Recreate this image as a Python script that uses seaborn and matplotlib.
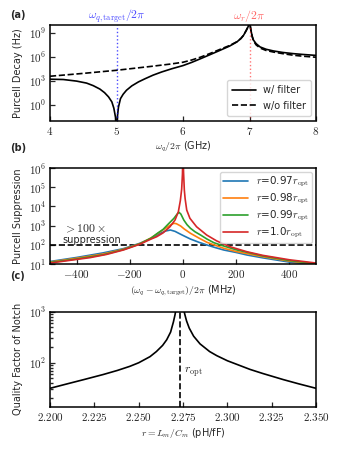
import matplotlib
matplotlib.use('Agg')

import matplotlib.pyplot as plt
import matplotlib.ticker as mticker
import matplotlib.transforms as mtransforms
import numpy as np
import pandas as pd
import seaborn as sns

# ---- panel (a): Purcell decay vs qubit frequency (values read as log10 Hz)
freq_filter = [4.00, 4.20, 4.40, 4.55, 4.65, 4.75, 4.82, 4.88, 4.93, 4.96, 4.985, 5.00,
               5.015, 5.03, 5.06, 5.10, 5.15, 5.23, 5.33, 5.43, 5.55, 5.68, 5.83, 6.00,
               6.13, 6.26, 6.40, 6.56, 6.70, 6.81, 6.87, 6.91, 6.95, 6.98, 7.00, 7.02,
               7.04, 7.06, 7.10, 7.16, 7.25, 7.36, 7.50, 7.66, 7.80, 8.00]
decay_filter_log10 = [3.19, 3.15, 2.95, 2.70, 2.38, 1.95, 1.50, 0.97, 0.34, -0.45, -1.6, -4.0,
                      -1.4, -0.3, 0.75, 1.30, 1.80, 2.35, 2.85, 3.25, 3.70, 4.10, 4.50, 4.90,
                      5.30, 5.75, 6.25, 6.83, 7.35, 7.87, 8.30, 8.70, 9.30, 9.80, 10.5, 9.40,
                      8.60, 8.10, 7.65, 7.24, 6.95, 6.74, 6.55, 6.40, 6.30, 6.18]

freq_nofilter = [4.00, 4.50, 5.00, 5.50, 5.80, 6.00, 6.13, 6.26, 6.40, 6.56, 6.70, 6.81,
                 6.87, 6.91, 6.95, 6.98, 7.00, 7.02, 7.04, 7.06, 7.10, 7.16, 7.25, 7.36,
                 7.50, 7.66, 7.80, 8.00]
decay_nofilter_log10 = [3.56, 3.92, 4.31, 4.78, 5.08, 5.32, 5.60, 5.95, 6.40, 6.95, 7.42, 7.90,
                        8.30, 8.70, 9.30, 9.80, 10.5, 9.40, 8.55, 8.00, 7.50, 7.10, 6.80, 6.60,
                        6.40, 6.20, 6.08, 5.95]

# ---- panel (b): Purcell suppression vs detuning (MHz, log10 suppression)
ratio_labels = ['0.97', '0.98', '0.99', '1.0']
det_097 = [-500, -400, -300, -224, -162, -122, -100, -85, -65, -47, -30, -9, 10, 28,
           60, 90, 120, 153, 200, 240, 300, 400, 500]
supp_097 = [1.13, 1.34, 1.58, 1.80, 2.08, 2.32, 2.48, 2.60, 2.72, 2.77, 2.70, 2.55, 2.42, 2.30,
            2.13, 1.99, 1.86, 1.73, 1.60, 1.47, 1.32, 1.10, 0.97]
det_098 = [-500, -400, -300, -224, -162, -120, -96, -75, -59, -45, -34, -25, -9, 5, 28,
           60, 90, 120, 153, 200, 300, 400, 500]
supp_098 = [1.10, 1.30, 1.52, 1.77, 2.06, 2.36, 2.58, 2.78, 2.92, 3.05, 3.12, 3.10, 2.98, 2.82, 2.60,
            2.35, 2.13, 1.98, 1.82, 1.65, 1.38, 1.15, 1.00]
det_099 = [-500, -400, -300, -224, -162, -120, -96, -75, -59, -34, -22, -15, -8, 3, 15, 28,
           45, 66, 90, 116, 150, 200, 300, 400, 500]
supp_099 = [1.08, 1.26, 1.48, 1.75, 2.05, 2.35, 2.60, 2.80, 3.03, 3.38, 3.60, 3.69, 3.60, 3.29, 3.05, 2.86,
            2.68, 2.51, 2.30, 2.11, 1.95, 1.74, 1.42, 1.18, 1.02]
det_100 = [-500, -420, -350, -287, -224, -162, -120, -99, -75, -49, -30, -17.5, -10, -5, -2, 0,
           2, 5, 8, 14, 26, 51, 89, 127, 177, 240, 300, 400, 500]
supp_100 = [1.05, 1.20, 1.33, 1.50, 1.73, 2.03, 2.30, 2.42, 2.62, 2.94, 3.29, 3.72, 4.30, 4.90, 5.70, 7.0,
            5.80, 4.85, 4.40, 3.81, 3.38, 2.94, 2.51, 2.20, 1.90, 1.64, 1.45, 1.22, 1.05]

# ---- panel (c): notch quality factor vs r = Lm/Cm (log10 Q)
r_values = [2.200, 2.210, 2.219, 2.230, 2.238, 2.245, 2.250, 2.2564, 2.260, 2.2635, 2.2658,
            2.268, 2.2696, 2.2705, 2.2712, 2.2718, 2.2746, 2.2752, 2.2760, 2.2770, 2.2785,
            2.2810, 2.2846, 2.290, 2.294, 2.300, 2.3128, 2.320, 2.3316, 2.340, 2.350]
q_log10 = [1.50, 1.59, 1.67, 1.77, 1.85, 1.93, 2.00, 2.12, 2.22, 2.34, 2.45,
           2.60, 2.80, 2.94, 3.08, 3.30, 3.30, 3.08, 2.95, 2.82, 2.68,
           2.52, 2.37, 2.22, 2.14, 2.04, 1.87, 1.79, 1.67, 1.59, 1.50]
r_opt = 2.2732

FS = 7
TICK_FS = 8


def panel_label(fig, x, y, text):
    fig.text(x / 339, 1 - y / 449, text, fontsize=FS, fontweight='bold',
             ha='left', va='center', family='DejaVu Sans')


def math_ticks(ax, xfmt='$%g$'):
    ax.xaxis.set_major_formatter(mticker.FormatStrFormatter(xfmt))
    if ax.get_yscale() == 'log':
        ax.yaxis.set_major_formatter(mticker.FuncFormatter(
            lambda v, pos: '$10^{%d}$' % int(round(np.log10(v)))))


def plot_decay(ax):
    sns.lineplot(x=freq_filter, y=np.power(10.0, decay_filter_log10), ax=ax,
                 color='black', lw=1.2, label='w/ filter', sort=False)
    sns.lineplot(x=freq_nofilter, y=np.power(10.0, decay_nofilter_log10), ax=ax,
                 color='black', lw=1.2, ls='--', label='w/o filter', sort=False)
    ax.axvline(5, color='blue', ls=':', lw=1.0, alpha=0.7)
    ax.axvline(7, color='red', ls=':', lw=1.0, alpha=0.55)
    trans = mtransforms.blended_transform_factory(ax.transData, ax.transAxes)
    ax.text(5, 1.015, r'$\omega_{q,\rm target}/2\pi$', color='blue', alpha=0.7,
            transform=trans, ha='center', va='bottom', fontsize=8.5)
    ax.text(7, 1.015, r'$\omega_r/2\pi$', color='red', alpha=0.6,
            transform=trans, ha='center', va='bottom', fontsize=8.5)
    ax.set_yscale('log')
    ax.set_xlim(4, 8)
    ax.set_ylim(1e-2, 1e10)
    ax.set_xticks([4, 5, 6, 7, 8])
    ax.set_yticks([1e0, 1e3, 1e6, 1e9])
    ax.minorticks_off()
    math_ticks(ax)
    ax.set_xlabel(r'$\omega_q/2\pi$ (GHz)', fontsize=FS, labelpad=2)
    ax.set_ylabel('Purcell Decay (Hz)', fontsize=FS)
    ax.legend(loc='lower right', fontsize=FS, handlelength=2.4, labelspacing=0.6,
              borderpad=0.5)


def plot_suppression(ax):
    dets = [det_097, det_098, det_099, det_100]
    supps = [supp_097, supp_098, supp_099, supp_100]
    frames = []
    for lab, d, s in zip(ratio_labels, dets, supps):
        frames.append(pd.DataFrame({
            'det': d, 'supp': np.power(10.0, s),
            'ratio': r'$r$=' + lab + r'$r_{\rm opt}$'}))
    df = pd.concat(frames, ignore_index=True)
    sns.lineplot(data=df, x='det', y='supp', hue='ratio', ax=ax,
                 palette=sns.color_palette('tab10', 4), lw=1.2)
    ax.axhline(100, color='black', ls='--', lw=1.2, zorder=1.5)
    ax.text(-452, 700, r'$>100\times$', fontsize=8.5, ha='left', va='center')
    ax.text(-452, 180, 'suppression', fontsize=FS, ha='left', va='center')
    ax.set_yscale('log')
    ax.set_xlim(-500, 500)
    ax.set_ylim(10, 1e6)
    ax.set_xticks([-400, -200, 0, 200, 400])
    ax.set_yticks([1e1, 1e2, 1e3, 1e4, 1e5, 1e6])
    ax.minorticks_off()
    math_ticks(ax)
    ax.set_xlabel(r'$(\omega_q - \omega_{q,\rm target})/2\pi$ (MHz)', fontsize=FS, labelpad=2)
    ax.set_ylabel('Purcell Suppression', fontsize=FS)
    leg = ax.legend(loc='upper right', fontsize=7.5, title=None, handlelength=2.4,
                    labelspacing=0.25, borderpad=0.25, handletextpad=0.8, borderaxespad=0.4)
    leg.set_zorder(5)


def plot_quality(ax):
    sns.lineplot(x=r_values, y=np.power(10.0, q_log10), ax=ax, color='black',
                 lw=1.2, sort=False)
    ax.axvline(r_opt, color='black', ls='--', lw=1.2)
    ax.text(r_opt + 0.0022, 66, r'$r_{\rm opt}$', fontsize=8.5, ha='left', va='center')
    ax.set_yscale('log')
    ax.set_xlim(2.2, 2.35)
    ax.set_ylim(13.8, 1e3)
    ax.set_xticks([2.2, 2.225, 2.25, 2.275, 2.3, 2.325, 2.35])
    ax.set_yticks([1e2, 1e3])
    math_ticks(ax, xfmt='$%.3f$')
    ax.yaxis.set_minor_formatter(mticker.NullFormatter())
    ax.set_xlabel(r'$r = L_m/C_m$ (pH/fF)', fontsize=FS, labelpad=2)
    ax.set_ylabel('Quality Factor of Notch', fontsize=FS)


def main():
    sns.set_theme(style='ticks')
    plt.rcParams.update({
        'font.family': ['DejaVu Sans'],
        'mathtext.fontset': 'cm',
        'axes.linewidth': 1.1,
        'xtick.direction': 'in',
        'ytick.direction': 'in',
        'xtick.labelsize': TICK_FS,
        'ytick.labelsize': TICK_FS,
        'xtick.major.size': 3.5,
        'ytick.major.size': 3.5,
        'xtick.major.width': 0.9,
        'ytick.major.width': 0.9,
        'xtick.minor.size': 2,
        'ytick.minor.size': 2,
        'xtick.major.pad': 3,
        'ytick.major.pad': 3,
        'axes.edgecolor': 'black',
    })

    fig = plt.figure(figsize=(3.39, 4.49), dpi=100)
    left, width = 50 / 339, 266 / 339
    ax_a = fig.add_axes([left, 1 - 120.5 / 449, width, 95.5 / 449])
    ax_b = fig.add_axes([left, 1 - 264 / 449, width, 96 / 449])
    ax_c = fig.add_axes([left, 1 - 406.7 / 449, width, 95 / 449])

    plot_decay(ax_a)
    plot_suppression(ax_b)
    plot_quality(ax_c)

    for ax in (ax_a, ax_b, ax_c):
        ax.tick_params(which='both', direction='in')

    panel_label(fig, 10, 15, '(a)')
    panel_label(fig, 10, 148, '(b)')
    panel_label(fig, 10, 276, '(c)')

    fig.savefig('out.png', dpi=100)
    plt.close(fig)


if __name__ == '__main__':
    main()
